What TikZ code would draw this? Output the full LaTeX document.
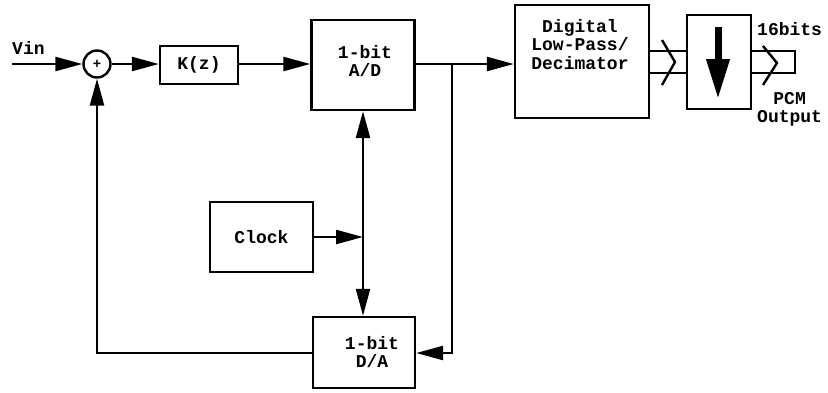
\documentclass[tikz,border=0pt]{standalone}
\usepackage{fontspec}
\setmainfont{Liberation Mono}
\usetikzlibrary{arrows.meta,calc}
\tikzset{
  blk/.style={draw, line width=2.4pt, rectangle, inner sep=0pt, align=center},
  lbl/.style={font=\bfseries\fontsize{18}{18.5}\selectfont, inner sep=0pt, align=center},
  wire/.style={line width=2.4pt},
  bigtip/.tip={Triangle[length=27pt,width=14pt]},
  arr/.style={wire, -bigtip},
}
\begin{document}
\begin{tikzpicture}[x=1pt,y=-1pt]
\useasboundingbox (0,0) rectangle (828,392);
% nodes
\node[lbl, anchor=west] (vin) at (12,48) {Vin};
\coordinate (in) at (12,64);
\node[draw, circle, line width=2.4pt, minimum size=27pt, inner sep=0pt, font=\bfseries\fontsize{14}{14}\selectfont] (sum) at (97,64) {+};
\node[blk, minimum width=78pt, minimum height=38pt] (K) at (199,65) {};
\node[lbl] at (199,65) {K(z)};
\node[blk, minimum width=103pt, minimum height=90pt] (AD) at (363,65) {};
\node[lbl] at (365,61) {1-bit\\A/D};
\node[blk, minimum width=134pt, minimum height=113pt] (DIG) at (582,61.5) {};
\node[lbl, anchor=north] at (580,19) {Digital\\Low-Pass/\\Decimator};
\node[blk, minimum width=64pt, minimum height=94pt] (DEC) at (719,62) {};
\node[blk, minimum width=103pt, minimum height=70pt] (CLK) at (261.5,237) {};
\node[lbl] at (261.5,237) {Clock};
\node[blk, minimum width=102pt, minimum height=71pt] (DA) at (364,352.5) {};
\node[lbl] at (372,352) {1-bit\\D/A};
\node[lbl, anchor=west] (b16) at (757,29) {16bits};
\node[lbl, anchor=north west] (pcm) at (757,92) {PCM\\Output};
% coordinates
\coordinate (j1) at (452,64);
\coordinate (j2) at (452,353);
\coordinate (jc) at (363,237);
\coordinate (fb) at (97,353);
\coordinate (busend1) at (795,51);
\coordinate (busend2) at (795,73);
% connectors
\draw[arr] (in) -- (sum.west);
\draw[arr] (sum.east) -- (K.west |- sum.east);
\draw[arr] (K.east |- 0,64) -- (AD.west |- 0,64);
\draw[arr] (AD.east |- j1) -- (DIG.west |- j1);
\draw[arr] (j1) -- (j2) -- (DA.east |- j2);
\draw[wire, bigtip-bigtip] (AD.south -| jc) -- (DA.north -| jc);
\draw[arr] (CLK.east) -- (jc);
\draw[arr] (DA.west |- fb) -- (fb) -- (sum.south);
% buses
\draw[wire] (DIG.east |- 0,51) -- (DEC.west |- 0,51);
\draw[wire] (DIG.east |- 0,73) -- (DEC.west |- 0,73);
\draw[wire] (DEC.east |- busend1) -- (busend1) -- (busend2) -- (DEC.east |- busend2);
\draw[wire] (662,40) -- (675,62) -- (662,85);
\draw[wire] (763,46) -- (777,63) -- (763,85);
% decimator arrow
\draw[line width=7pt, -{Triangle[length=40pt,width=22pt]}] (718,27) -- (718,99);
\end{tikzpicture}
\end{document}
